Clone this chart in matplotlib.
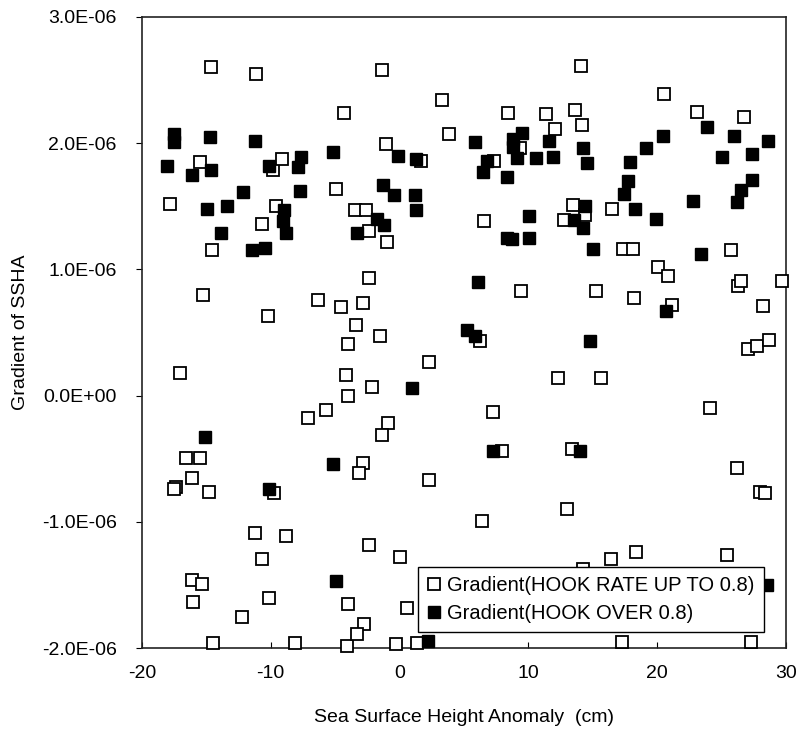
import matplotlib.pyplot as plt
from matplotlib.ticker import FuncFormatter, MultipleLocator

plt.rcParams['font.family'] = ['Liberation Sans', 'DejaVu Sans']
plt.rcParams['axes.unicode_minus'] = False

# gradient values are in units of 1E-06
low_x = [-14.6, -11.15, -4.29, -15.47, -9.85, -9.11, -4.94, -17.83, -9.56, -10.71,
         -14.59, -15.24, -6.31, -4.57, -10.19, -3.98, -17.05, -4.16, -3.98, -5.71, -7.09,
         -1.39, 3.27, 8.39, 11.37, 12.07, 3.84, -1.08, 1.66, 9.35, 7.33, -3.46, -2.61,
         -2.38, -1.0, 6.55, -2.38, 9.4, -2.82, -3.41, -1.52, 6.24, 2.31, -2.12, 12.32,
         7.27, -0.92,
         14.06, 20.53, 13.62, 23.07, 26.76, 14.14, 13.49, 16.47, 14.39, 12.76, 17.32,
         18.14, 25.71, 20.04, 20.86, 26.3, 26.51, 29.71, 15.23, 18.2, 21.17, 28.24,
         27.07, 27.77, 28.68, 15.61, 24.1,
         -16.61, -15.5, -16.14, -17.36, -17.49, -14.8, -9.75, -11.23, -8.82, -10.71,
         -16.09, -15.36, -16.06, -10.16, -4.03, -12.24, -14.51, -8.12, -4.11,
         -1.37, -2.82, -3.15, 2.28, 7.97, 6.42, -2.35, 0.03, 0.55, -2.74, -3.28,
         -0.28, 1.33,
         13.41, 26.17, 27.98, 28.37, 12.97, 16.41, 18.35, 25.47, 14.26, 17.29, 27.26]
low_y = [2.60, 2.55, 2.24, 1.85, 1.79, 1.87, 1.64, 1.52, 1.50, 1.36,
         1.15, 0.80, 0.76, 0.70, 0.63, 0.41, 0.18, 0.16, 0.00, -0.11, -0.18,
         2.58, 2.34, 2.24, 2.23, 2.11, 2.07, 1.99, 1.86, 1.96, 1.86, 1.47, 1.47,
         1.30, 1.22, 1.38, 0.93, 0.83, 0.73, 0.56, 0.47, 0.43, 0.27, 0.07, 0.14,
         -0.13, -0.22,
         2.61, 2.39, 2.26, 2.25, 2.21, 2.14, 1.51, 1.48, 1.43, 1.39, 1.16,
         1.16, 1.15, 1.02, 0.95, 0.87, 0.91, 0.91, 0.83, 0.77, 0.72, 0.71,
         0.37, 0.39, 0.44, 0.14, -0.10,
         -0.49, -0.49, -0.65, -0.72, -0.74, -0.76, -0.77, -1.09, -1.11, -1.29,
         -1.46, -1.49, -1.63, -1.60, -1.65, -1.75, -1.96, -1.96, -1.98,
         -0.31, -0.53, -0.61, -0.67, -0.44, -0.99, -1.18, -1.28, -1.68, -1.81, -1.89,
         -1.97, -1.96,
         -0.42, -0.57, -0.76, -0.77, -0.90, -1.29, -1.24, -1.26, -1.37, -1.95, -1.95]

over_x = [-17.52, -17.52, -14.72, -11.2, -18.08, -16.12, -14.62, -10.12, -7.68, -7.86,
          -5.19, -12.14, -7.73, -14.95, -13.42, -8.94, -9.03, -8.82, -13.87, -11.46, -10.43,
          5.83, -0.1, 1.27, 8.78, 9.48, 8.83, 9.09, 11.6, 10.64, 11.93, 6.76, 6.45, 8.36,
          -1.27, -0.41, 1.2, 1.27, -1.73, -1.21, -3.33, 10.07, 8.32, 8.7, 10.07, 6.11,
          5.21, 5.85, 0.94,
          23.84, 20.47, 25.96, 28.63, 19.13, 14.26, 14.57, 17.89, 25.03, 27.34, 27.36,
          17.76, 17.42, 26.51, 26.17, 22.76, 14.39, 18.28, 13.54, 14.26, 19.91, 15.04,
          23.4, 20.66, 14.78,
          -15.11, -5.19, -10.12, -4.96, 7.27, 2.23, 14.01, 28.55]
over_y = [2.07, 2.01, 2.05, 2.02, 1.82, 1.75, 1.79, 1.82, 1.89, 1.81,
          1.93, 1.61, 1.62, 1.48, 1.50, 1.47, 1.38, 1.29, 1.29, 1.15, 1.17,
          2.01, 1.90, 1.87, 2.03, 2.08, 1.97, 1.88, 2.02, 1.88, 1.89, 1.86, 1.77, 1.73,
          1.67, 1.59, 1.59, 1.47, 1.40, 1.35, 1.29, 1.42, 1.25, 1.24, 1.25, 0.90,
          0.52, 0.47, 0.06,
          2.13, 2.06, 2.06, 2.02, 1.96, 1.96, 1.84, 1.85, 1.89, 1.91, 1.71,
          1.70, 1.60, 1.63, 1.53, 1.54, 1.50, 1.48, 1.39, 1.33, 1.40, 1.16,
          1.12, 0.67, 0.43,
          -0.33, -0.54, -0.74, -1.47, -0.44, -1.94, -0.44, -1.50]

fig = plt.figure(figsize=(7.97, 7.30), dpi=100)
ax = fig.add_axes([0.178, 0.112, 0.808, 0.865])

ax.plot(low_x, [v * 1e-6 for v in low_y], linestyle='none', marker='s', markersize=8,
        markerfacecolor='white', markeredgecolor='black', markeredgewidth=1.3,
        clip_on=False, label='Gradient(HOOK RATE UP TO 0.8)', zorder=3)
ax.plot(over_x, [v * 1e-6 for v in over_y], linestyle='none', marker='s', markersize=8,
        markerfacecolor='black', markeredgecolor='black', markeredgewidth=1.0,
        clip_on=False, label='Gradient(HOOK OVER 0.8)', zorder=4)

ax.set_xlim(-20, 30)
ax.set_ylim(-2e-6, 3e-6)
ax.xaxis.set_major_locator(MultipleLocator(10))
ax.yaxis.set_major_locator(MultipleLocator(1e-6))
ax.yaxis.set_major_formatter(FuncFormatter(lambda v, p: '%.1E' % (0 if abs(v) < 1e-12 else v)))

ax.tick_params(axis='x', direction='in', length=4, pad=12, labelsize=14)
ax.tick_params(axis='y', direction='out', length=4, pad=14, labelsize=14)
for s in ax.spines.values():
    s.set_color('#222222')
    s.set_linewidth(1.2)

ax.set_xlabel('Sea Surface Height Anomaly  (cm)', fontsize=14)
ax.set_ylabel('Gradient of SSHA', fontsize=14)
ax.xaxis.set_label_coords(0.5, -0.097)
ax.yaxis.set_label_coords(-0.175, 0.5)

leg = ax.legend(loc='lower left', bbox_to_anchor=(0.429, 0.025), fontsize=14.5,
                frameon=True, fancybox=False, framealpha=1, edgecolor='black',
                handlelength=0.7, handletextpad=0.3, borderpad=0.45, labelspacing=0.45,
                borderaxespad=0)
leg.set_zorder(10)
leg.get_frame().set_linewidth(1.0)

fig.savefig('out.png', dpi=100)
